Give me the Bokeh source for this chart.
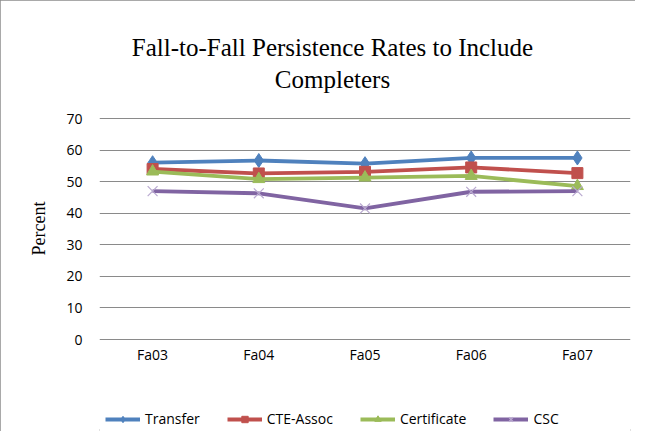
from bokeh.plotting import figure
from bokeh.models import Range1d, FactorRange, Legend, LegendItem, Label, InlineStyleSheet
from bokeh.embed import file_html
from bokeh.resources import INLINE

categories = ["Fa03", "Fa04", "Fa05", "Fa06", "Fa07"]
transfer = [56.0, 56.7, 55.7, 57.5, 57.5]
cte_assoc = [54.0, 52.6, 53.1, 54.5, 52.7]
certificate = [53.2, 50.8, 51.3, 51.8, 48.6]
csc = [47.0, 46.3, 41.5, 46.8, 47.0]
series_names = ["Transfer", "CTE-Assoc", "Certificate", "CSC"]
y_ticks = [0, 10, 20, 30, 40, 50, 60, 70]
title_lines = ["Fall-to-Fall Persistence Rates to Include", "Completers"]

W, H = 635, 431
# frame spans nearly the whole canvas; the value axis maps 0..70 onto the plot area
p = figure(width=W, height=H, x_range=FactorRange(*categories), y_range=Range1d(-29.14, 99.46),
           output_backend="svg", toolbar_location=None,
           min_border_left=99, min_border_right=5, min_border_top=25, min_border_bottom=0)
p.stylesheets = [InlineStyleSheet(css=":host { outline: 2px solid #8c8c8c; outline-offset: -2px; }")]
p.background_fill_color = "white"
p.border_fill_color = "white"
p.outline_line_color = None

p.xgrid.grid_line_color = None
p.ygrid.grid_line_color = "#8a8a8a"
p.ygrid.grid_line_width = 1
p.yaxis.ticker = y_ticks
p.yaxis.axis_line_color = None
p.yaxis.major_tick_line_color = None
p.yaxis.minor_tick_line_color = None
p.yaxis.major_tick_out = 0
p.yaxis.major_tick_in = 0
p.yaxis.minor_tick_out = 0
p.yaxis.major_label_standoff = 17
p.yaxis.major_label_text_font = "Open Sans"
p.yaxis.major_label_text_font_size = "14px"
p.yaxis.major_label_text_color = "#000000"
p.yaxis.axis_label = "Percent"
p.yaxis.axis_label_text_font = "Liberation Serif"
p.yaxis.axis_label_text_font_style = "normal"
p.yaxis.axis_label_text_font_size = "18px"
p.yaxis.axis_label_text_color = "#000000"
p.yaxis.axis_label_standoff = 14

p.xaxis.fixed_location = 0
p.xaxis.axis_line_color = None
p.xaxis.major_tick_line_color = None
p.xaxis.minor_tick_line_color = None
p.xaxis.major_tick_out = 0
p.xaxis.major_tick_in = 0
p.xaxis.major_label_standoff = 5
p.xaxis.major_label_text_font = "Open Sans"
p.xaxis.major_label_text_font_size = "14px"
p.xaxis.major_label_text_color = "#000000"

colors = ["#4F81BD", "#C0504D", "#9BBB59", "#8064A2"]
data = [transfer, cte_assoc, certificate, csc]
items = []
for name, vals, col in zip(series_names, data, colors):
    ln = p.line(categories, vals, line_color=col, line_width=3.8)
    if name == "Transfer":
        mk = p.scatter(categories, vals, marker="diamond", size=14, fill_color=col, line_color=col)
    elif name == "CTE-Assoc":
        mk = p.scatter(categories, vals, marker="square", size=11, fill_color=col, line_color=col)
    elif name == "Certificate":
        mk = p.scatter(categories, vals, marker="triangle", size=12, fill_color=col, line_color=col)
    else:
        mk = p.scatter(categories, vals, marker="x", size=14, line_color="#b9a9d0", line_width=1.2)
    items.append(LegendItem(label=name, renderers=[ln, mk]))

legend = Legend(items=items, orientation="horizontal", location=(6, 3),
                label_text_font="Open Sans", label_text_font_size="14px", label_text_color="#000000",
                glyph_width=35, glyph_height=16, label_standoff=5, spacing=27,
                padding=0, margin=0, border_line_color=None, background_fill_alpha=0)
p.add_layout(legend, "center")

frame_left = 99
p.add_layout(Label(x=332 - frame_left, y=H - 47, x_units="screen", y_units="screen", text=title_lines[0],
                   text_align="center", text_baseline="middle", text_font="Liberation Serif",
                   text_font_size="25px", text_color="#000000"))
p.add_layout(Label(x=332 - frame_left, y=H - 79, x_units="screen", y_units="screen", text=title_lines[1],
                   text_align="center", text_baseline="middle", text_font="Liberation Serif",
                   text_font_size="25px", text_color="#000000"))

open("out.html", "w").write(file_html(p, INLINE))
